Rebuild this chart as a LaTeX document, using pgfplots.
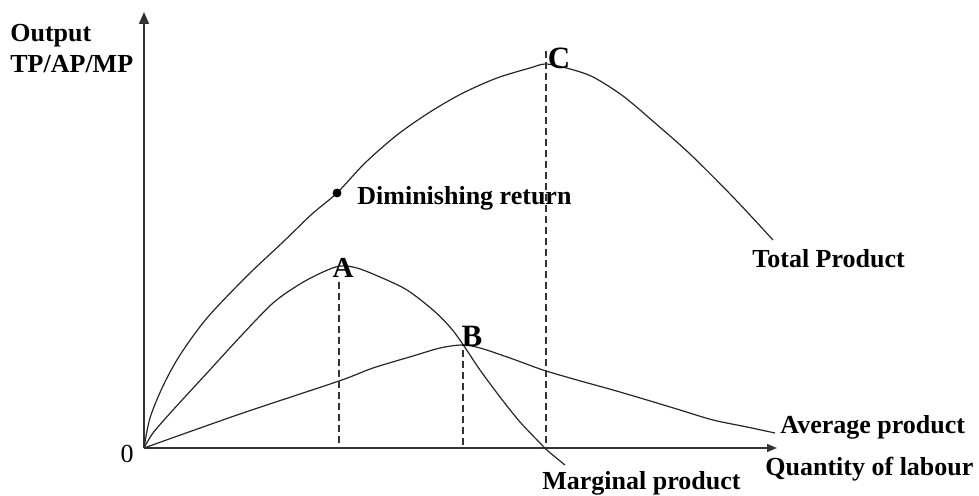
\documentclass[border=0pt]{standalone}
\usepackage{fontspec}
\setmainfont{Liberation Serif}
\usepackage{pgfplots}
\pgfplotsset{compat=1.18}
\usetikzlibrary{arrows.meta}
\begin{document}
\fontsize{13}{15.5}\selectfont
\begin{tikzpicture}
\begin{axis}[
  scale only axis, width=489.5pt, height=248pt,
  xmin=0, xmax=979, ymin=0, ymax=496, y dir=reverse,
  axis lines=box, axis line style={draw=none}, ticks=none,
  clip=false,
]
% axes
\addplot[black!80, line width=0.8pt, -{Triangle[length=6pt,width=5pt]}] coordinates {(144,448) (144,12)};
\addplot[black!80, line width=0.8pt, -{Triangle[length=5pt,width=4pt]}] coordinates {(144,448) (777,448)};
% total product
\addplot[black!85, line width=0.6pt, smooth] coordinates {
(144,448) (150,418) (163,386) (180,355) (207,318) (247,276) (283,242) (312,214) (337,193)
(365,163) (397,135) (430,112) (463,93) (497,78) (530,68) (546,64)
(570,69) (593,77) (623,96) (655,123) (690,154) (733,197) (773,240)};
% marginal product
\addplot[black!85, line width=0.6pt, smooth] coordinates {
(144,448) (153,433) (173,410) (207,373) (240,337) (273,303) (300,284) (323,272) (340,266)
(357,268) (380,277) (407,290) (433,310) (450,327) (462,343) (480,370) (500,397) (520,422)
(540,443) (548,451) (565,465)};
% average product
\addplot[black!85, line width=0.6pt, smooth] coordinates {
(144,448) (240,414) (339,381) (373,368) (413,356) (440,348) (462,345) (480,348) (510,358)
(543,370) (577,380) (613,390) (647,400) (680,410) (713,420) (747,427) (775,433)};
% dashed verticals
\addplot[black!80, line width=0.65pt, dash pattern=on 3.5pt off 2pt] coordinates {(339,282) (339,448)};
\addplot[black!80, line width=0.65pt, dash pattern=on 3.5pt off 2pt] coordinates {(463,350) (463,448)};
\addplot[black!80, line width=0.65pt, dash pattern=on 3.5pt off 2pt] coordinates {(546,51) (546,448)};
% diminishing return point
\addplot[only marks, mark=*, mark size=2pt, black] coordinates {(337,193)};
% labels
\node[anchor=base west, inner sep=0pt, font=\bfseries] at (axis cs:10,42) {Output};
\node[anchor=base west, inner sep=0pt, font=\bfseries] at (axis cs:10,73) {TP/AP/MP};
\node[anchor=base west, inner sep=0pt, font=\bfseries] at (axis cs:357,205) {Diminishing return};
\node[anchor=base west, inner sep=0pt, font=\bfseries] at (axis cs:752,268) {Total Product};
\node[anchor=base west, inner sep=0pt, font=\bfseries] at (axis cs:780,433) {Average product};
\node[anchor=base west, inner sep=0pt, font=\bfseries] at (axis cs:765,475) {Quantity of labour};
\node[anchor=base west, inner sep=0pt, font=\bfseries] at (axis cs:542,489) {Marginal product};
\node[anchor=center, inner sep=0pt] at (axis cs:127,454) {0};
\node[anchor=center, inner sep=0pt, font=\bfseries\fontsize{14.5}{16}\selectfont] at (axis cs:343,268) {A};
\node[anchor=center, inner sep=0pt, font=\bfseries\fontsize{15.5}{17}\selectfont] at (axis cs:472,336) {B};
\node[anchor=center, inner sep=0pt, font=\bfseries\fontsize{15.5}{17}\selectfont] at (axis cs:559,58) {C};
\end{axis}
\end{tikzpicture}
\end{document}
